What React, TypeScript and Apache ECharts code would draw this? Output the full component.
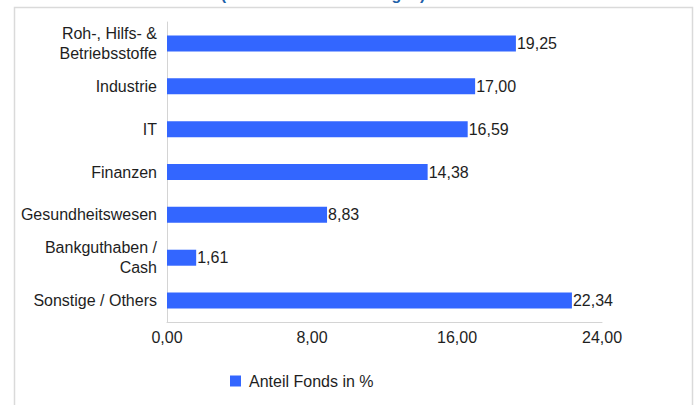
import React, { useEffect, useRef } from "react";
import * as echarts from "echarts";

const categories = [
  "Roh-, Hilfs- &\nBetriebsstoffe",
  "Industrie",
  "IT",
  "Finanzen",
  "Gesundheitswesen",
  "Bankguthaben /\nCash",
  "Sonstige / Others",
];
const values = [19.25, 17.0, 16.59, 14.38, 8.83, 1.61, 22.34];
const seriesName = "Anteil Fonds in %";
const titleText = "(in % des Fondsvermögen)";
const axisMin = 0;
const axisMax = 24;
const axisStep = 8;

const FONT = "'Liberation Sans', Arial, sans-serif";
const fmt = (v: number) => v.toFixed(2).replace(".", ",");

export default function App() {
  const ref = useRef<HTMLDivElement>(null);
  useEffect(() => {
    if (!ref.current) return;
    const chart = echarts.init(ref.current, null, { renderer: "svg" });
    chart.setOption({
      animation: false,
      backgroundColor: "#ffffff",
      textStyle: { fontFamily: FONT },
      graphic: [
        {
          type: "rect",
          shape: { x: 14.5, y: 7.5, width: 678, height: 430 },
          style: { fill: "none", stroke: "#dadada", lineWidth: 1.5 },
          silent: true,
        },
        {
          type: "text",
          x: 323,
          y: -6,
          style: {
            text: titleText,
            fill: "#2060a8",
            font: "bold 16px " + FONT,
            align: "center",
            verticalAlign: "middle",
          },
        },
      ],
      grid: { left: 167, right: 95, top: 22, bottom: 83, containLabel: false },
      legend: {
        data: [seriesName],
        left: 225,
        top: 368,
        icon: "rect",
        itemWidth: 11,
        itemHeight: 11,
        itemGap: 8,
        textStyle: { fontFamily: FONT, fontSize: 16, color: "#1e1e1e", padding: [0, 0, 0, 3] },
      },
      xAxis: {
        type: "value",
        min: axisMin,
        max: axisMax,
        interval: axisStep,
        axisLine: { show: true, lineStyle: { color: "#d4d4d4", width: 1 } },
        axisTick: { show: false },
        splitLine: { show: false },
        axisLabel: {
          formatter: (v: number) => fmt(v),
          fontFamily: FONT,
          fontSize: 16,
          color: "#1e1e1e",
          margin: 7,
        },
      },
      yAxis: {
        type: "category",
        inverse: true,
        data: categories,
        axisLine: { show: true, lineStyle: { color: "#d4d4d4", width: 1 } },
        axisTick: { show: false },
        axisLabel: {
          fontFamily: FONT,
          fontSize: 16,
          color: "#1e1e1e",
          margin: 10,
          lineHeight: 20,
          align: "right",
        },
      },
      series: [
        {
          name: seriesName,
          type: "bar",
          data: values,
          barWidth: 16,
          itemStyle: { color: "#3366ff" },
          label: {
            show: true,
            position: "right",
            distance: 1,
            formatter: (p: any) => fmt(p.value),
            fontFamily: FONT,
            fontSize: 16,
            color: "#1e1e1e",
          },
        },
      ],
    });
    return () => chart.dispose();
  }, []);
  return (
    <div
      ref={ref}
      style={{ position: "fixed", left: 0, top: 0, width: 697, height: 405 }}
    />
  );
}
